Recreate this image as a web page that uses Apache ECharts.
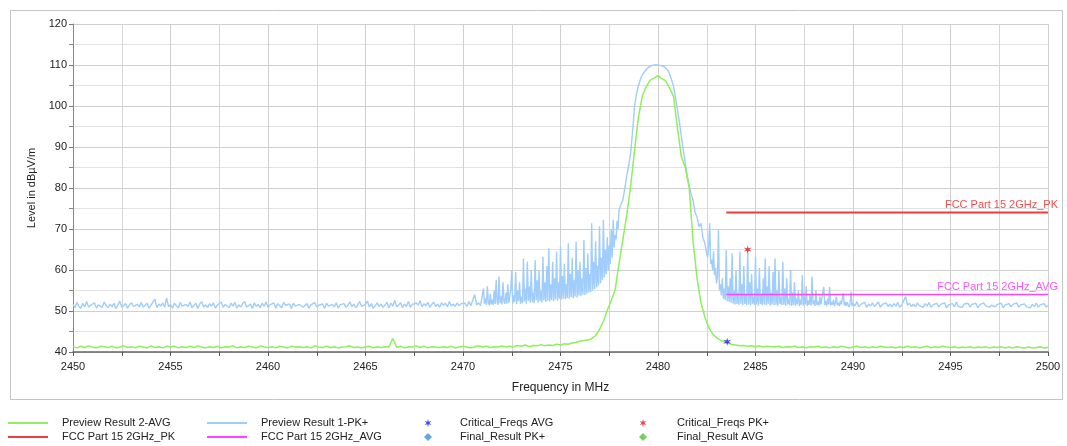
<!DOCTYPE html>
<html>
<head>
<meta charset="utf-8">
<script src="https://cdn.jsdelivr.net/npm/echarts@6/dist/echarts.min.js"></script>
<style>
html,body{margin:0;padding:0;background:#fff;}
#chart{width:1067px;height:446px;}
</style>
</head>
<body>
<div id="chart"></div>
<script>
// ---- Data ----
// Preview Result 1-PK+ : read in segments (start MHz, step MHz, levels dBµV/m)
const pkSeg1Start = 2450, pkSeg1Step = 0.1;
const pkSeg1 = [
51.6,50.8,52.1,51.2,50.6,51.9,51.0,52.3,50.9,51.4,
51.1,52.0,50.7,51.5,51.8,50.9,52.2,51.3,50.8,51.7,
51.0,51.9,50.6,51.4,52.4,50.9,51.2,51.8,50.7,51.5,
52.0,51.1,50.8,51.6,51.0,52.1,50.9,51.3,51.9,50.7,
51.4,52.2,52.9,50.8,51.7,51.2,52.0,50.9,53.2,51.0,
51.6,50.7,51.9,51.3,50.8,52.1,51.2,50.9,51.6,51.1,
52.2,50.8,51.4,51.9,50.6,51.7,52.3,51.0,51.5,50.9,
51.8,51.2,52.0,50.7,51.4,51.1,52.2,50.9,51.6,51.3,
50.8,51.9,51.2,52.1,50.7,51.5,51.0,51.8,52.3,50.9,
51.3,51.7,50.6,52.0,51.1,51.6,50.8,51.9,51.2,52.2,
50.9,51.5,51.1,52.0,50.7,51.8,51.3,50.8,52.1,51.4,
51.0,51.7,50.6,51.9,51.2,50.8,51.6,52.0,50.9,51.3,
51.8,50.7,51.5,51.1,52.1,50.9,51.4,51.0,51.7,50.6,
51.9,51.2,50.8,51.6,51.0,52.0,50.7,51.5,51.3,51.8,
50.9,51.4,52.2,51.0,51.7,50.8,51.5,52.3,51.1,50.9,
51.6,52.4,51.0,51.8,50.7,51.3,52.0,51.1,51.7,50.9,
51.5,52.1,50.8,51.9,51.2,52.6,51.0,51.4,52.0,50.8,
51.7,51.1,52.3,50.9,51.6,51.2,52.0,51.4,52.5,51.0,
51.8,51.3,52.1,50.9,51.6,52.2,51.1,51.7,50.9,52.0,
51.4,51.9,51.0,52.3,51.2,51.7,51.1,52.0,51.3,51.8,
51.4,51.9,51.1,52.3,51.3,51.7,54.0,51.5,52.0,51.3
];
const pkSeg2Start = 2471, pkSeg2Step = 0.05;
const pkSeg2 = [
51.4,55.5,51.8,53.0,51.5,56.0,52.0,51.4,54.2,51.6,
52.8,51.5,55.0,51.7,57.6,52.2,51.5,58.4,51.9,53.6,
51.6,57.0,52.4,51.7,54.5,51.8,56.5,52.0,51.6,55.2,
60.0,51.8,53.8,52.2,59.5,51.7,55.0,52.4,57.0,51.8,
53.5,51.9,62.8,52.3,55.5,51.8,62.0,52.5,56.0,52.0,
60.0,52.2,54.5,51.9,62.4,52.6,57.5,52.0,60.0,52.4,
55.0,52.1,63.2,52.6,57.0,52.2,61.0,52.5,65.3,52.3,
56.5,52.7,62.0,52.4,58.0,52.8,64.5,52.5,57.0,53.0,
65.7,52.8,58.5,53.0,61.5,52.9,56.5,53.2,66.5,53.0,
59.0,53.4,63.0,53.1,57.5,53.5,66.9,53.3,60.0,53.8,
62.0,53.6,58.0,54.0,67.3,53.9,60.5,54.3,64.0,54.5,
59.0,54.6,71.4,55.0,62.0,55.3,67.0,55.8,61.0,56.2,
70.6,56.8,63.0,57.5,72.2,58.2,65.0,59.0,68.0,60.0,
66.0,61.5,70.0,63.0,72.2,65.5,68.5,67.5,72.0,70.0
];
const pkSeg3Start = 2478, pkSeg3Step = 0.1;
const pkSeg3 = [
74.5,76.0,77.1,80.0,83.0,85.6,88.5,94.0,100.0,103.0,
105.0,106.5,107.6,108.3,108.9,109.4,109.7,109.9,110.0,110.1,
110.0,109.9,109.8,109.6,109.3,108.8,107.8,106.3,104.7,102.0,
99.0,96.0,92.5,89.3,86.0,83.0,80.5,78.5,77.0,74.0,
73.0,70.6,71.4,68.0,66.5
];
const pkSeg4Start = 2482.5, pkSeg4Step = 0.05;
const pkSeg4 = [
64.0,63.0,66.0,71.4,61.5,62.5,60.0,64.5,58.8,60.5,
56.7,58.5,69.8,55.0,56.5,53.8,58.0,53.0,55.5,52.7,
64.9,52.4,56.0,52.2,58.0,52.0,64.1,51.8,55.0,51.6,
60.0,51.7,54.5,51.5,64.5,51.8,56.5,51.4,61.0,51.7,
54.0,51.5,64.8,51.6,57.0,51.4,59.0,51.8,53.5,51.5,
63.2,51.6,55.5,51.3,60.5,51.7,54.0,51.4,58.0,51.6,
62.8,51.4,56.0,51.7,61.0,51.3,54.5,51.6,59.5,51.4,
62.8,51.5,55.0,51.3,60.0,51.7,53.5,51.4,62.0,51.5,
55.5,51.3,58.0,51.6,53.0,51.4,60.0,51.2,54.5,51.5,
57.0,51.3,53.0,51.6,55.0,51.2,52.8,51.5,58.8,51.3,
53.5,51.6,56.0,51.2,52.6,51.5,54.0,51.3,58.4,51.6,
52.5,51.2,55.0,51.5,52.3,51.3,53.5,51.6,52.0,51.2,
55.9,51.5,52.4,51.2,53.0,51.6,55.9,51.3,52.2,51.5,
52.8,51.2,51.9,53.5,51.4,52.0,51.2,52.5,51.6,51.3,
54.3,51.4,52.2,51.2,52.2,51.5,51.0,51.7,54.7,51.2
];
const pkSeg5Start = 2490, pkSeg5Step = 0.1;
const pkSeg5 = [
51.9,51.2,52.3,51.0,51.6,51.3,52.1,50.9,51.7,51.2,
52.0,51.1,51.5,52.2,50.9,51.6,51.3,52.0,51.1,51.7,
51.0,51.8,51.2,52.1,50.9,51.5,51.2,53.5,51.4,51.9,
51.1,51.7,51.0,52.0,51.3,51.6,50.9,51.8,51.2,52.1,
50.9,51.5,51.2,51.9,51.0,51.6,51.3,52.0,50.8,51.5,
51.2,51.8,51.0,52.2,51.1,51.5,50.9,51.7,51.3,51.9,
51.0,51.6,51.2,51.9,50.8,51.5,51.1,52.0,51.3,51.7,
50.9,51.4,51.8,51.0,51.6,51.2,51.9,50.8,51.5,51.1,
51.8,51.0,51.6,51.2,52.0,50.9,51.5,51.3,51.7,51.0,
51.4,50.8,51.6,51.1,51.9,50.9,51.5,51.2,51.8,51.0,
51.3
];

// Preview Result 2-AVG : sampled every 0.2 MHz from 2450 MHz
const avgStart = 2450, avgStep = 0.2;
const avgValues = [
41.3,41.0,41.4,41.1,41.5,
41.2,41.0,41.4,41.3,41.1,
41.4,41.0,41.2,41.5,41.1,
41.3,41.0,41.4,41.2,41.0,
41.5,41.1,41.3,41.0,41.4,
41.2,41.4,41.0,41.3,41.1,
41.4,41.1,41.5,41.2,41.0,
41.3,41.1,41.4,41.0,41.3,
41.2,41.5,41.0,41.3,41.1,
41.4,41.2,41.0,41.5,41.2,
41.1,41.3,41.0,41.4,41.2,
41.0,41.4,41.2,41.3,41.1,
41.3,41.0,41.5,41.2,41.1,
41.4,41.1,41.3,41.0,41.2,
41.3,41.5,41.1,41.2,41.0,
41.2,41.4,41.0,41.3,41.1,
41.3,41.2,43.3,41.1,41.4,
41.0,41.3,41.2,41.5,41.1,
41.4,41.0,41.3,41.2,41.1,
41.3,41.1,41.4,41.0,41.2,
41.4,41.2,41.0,41.3,41.5,
41.2,41.4,41.1,41.3,41.2,
41.5,41.2,41.4,41.3,41.6,
41.4,41.7,41.3,41.6,41.5,
41.8,41.5,41.7,41.6,41.9,
41.7,42.0,41.9,42.2,42.3,
42.6,42.8,42.9,43.3,44.0,
45.5,47.5,50.2,52.5,55.1,
61.5,67.5,73.5,80.5,89.3,
97.4,102.5,104.8,106.3,106.8,
107.4,106.7,106.1,104.3,102.3,
94.5,87.6,85.0,80.0,67.0,
58.0,52.0,48.6,46.0,44.4,
43.5,42.9,42.5,42.1,41.8,
41.7,41.5,41.6,41.4,41.5,
41.3,41.5,41.2,41.4,41.3,
41.2,41.4,41.1,41.3,41.2,
41.4,41.1,41.3,41.0,41.3,
41.2,41.4,41.1,41.3,41.0,
41.3,41.1,41.4,41.2,41.0,
41.2,41.4,41.1,41.3,41.0,
41.3,41.1,41.4,41.2,41.1,
41.2,41.0,41.3,41.1,41.4,
41.1,41.3,41.0,41.2,41.4,
41.0,41.3,41.1,41.4,41.2,
41.1,41.3,41.0,41.2,41.1,
41.3,41.0,41.2,41.1,41.3,
41.0,41.2,41.1,41.3,41.0,
41.2,41.0,41.3,41.1,41.0,
41.2,41.0,41.1,41.3,41.0,
41.1
];

// Limit lines
const limitFreqs = [2483.5, 2500];
const limitPk = 74;
const limitAvg = 54;

// Critical frequencies
const critAvg = [[2483.55, 42.5]];
const critPk = [[2484.6, 65.0]];
const finalPk = [];
const finalAvg = [];

const xTicks = { min: 2450, max: 2500, step: 5 };
const yTicks = { min: 40, max: 120, step: 10 };

// ---- Build ----
function seg(start, step, vals) {
  return vals.map((v, i) => [+(start + i * step).toFixed(3), v]);
}
const pkData = [].concat(
  seg(pkSeg1Start, pkSeg1Step, pkSeg1),
  seg(pkSeg2Start, pkSeg2Step, pkSeg2),
  seg(pkSeg3Start, pkSeg3Step, pkSeg3),
  seg(pkSeg4Start, pkSeg4Step, pkSeg4),
  seg(pkSeg5Start, pkSeg5Step, pkSeg5)
);
const avgData = seg(avgStart, avgStep, avgValues);

const FONT = '"Liberation Sans", Arial, sans-serif';
const starPath = 'path://M10 0 L11.75 6.97 L18.66 5 L13.5 10 L18.66 15 L11.75 13.03 L10 20 L8.25 13.03 L1.34 15 L6.5 10 L1.34 5 L8.25 6.97 Z';

const C_AVG = '#8fef5c', C_PK = '#a0cdfb', C_LPK = '#f23a3a', C_LAVG = '#ff44ff';

const chart = echarts.init(document.getElementById('chart'), null, {renderer: 'canvas'});
function legendText(pad) {
  return {color: '#222', fontSize: 11, fontFamily: FONT, lineHeight: 12, padding: [0, 0, 0, pad]};
}
function lineLegend(left, names) {
  return {left: left, top: 417, padding: 0, orient: 'vertical', itemWidth: 40, itemHeight: 2,
          itemGap: 2, icon: 'rect', textStyle: legendText(9), data: names};
}
function symLegend(left, pad, names) {
  return {left: left, top: 417, padding: 0, orient: 'vertical', itemWidth: 8, itemHeight: 8,
          itemGap: 2, textStyle: legendText(pad), data: names};
}
const option = {
  backgroundColor: '#fff',
  animation: false,
  textStyle: {fontFamily: FONT},
  graphic: [{
    type: 'rect', left: 8, top: 8, z: -10, silent: true,
    shape: {width: 1052, height: 389},
    style: {fill: 'none', stroke: '#c4c4c4', lineWidth: 1}
  }],
  grid: {left: 73, right: 19, top: 24, bottom: 94},
  legend: [
    lineLegend(8, ['Preview Result 2-AVG', 'FCC Part 15 2GHz_PK']),
    lineLegend(207, ['Preview Result 1-PK+', 'FCC Part 15 2GHz_AVG']),
    symLegend(424, 23, ['Critical_Freqs AVG', 'Final_Result PK+']),
    symLegend(639, 25, ['Critical_Freqs PK+', 'Final_Result AVG'])
  ],
  xAxis: {
    type: 'value', min: xTicks.min, max: xTicks.max, interval: xTicks.step,
    name: 'Frequency in MHz', nameLocation: 'middle', nameGap: 30,
    nameTextStyle: {color: '#222', fontSize: 12, fontFamily: FONT},
    axisLine: {show: true, onZero: false, lineStyle: {color: '#666', width: 1.5}},
    axisTick: {show: true, length: 4, lineStyle: {color: '#555'}},
    minorTick: {show: true, splitNumber: 2, length: 4, lineStyle: {color: '#555'}},
    splitLine: {show: true, lineStyle: {color: '#cfcfcf'}},
    minorSplitLine: {show: true, lineStyle: {color: '#d6d6d6'}},
    axisLabel: {color: '#222', fontSize: 11, margin: 9, fontFamily: FONT,
                formatter: v => String(v)}
  },
  yAxis: {
    type: 'value', min: yTicks.min, max: yTicks.max, interval: yTicks.step,
    name: 'Level in dBµV/m', nameLocation: 'middle', nameGap: 30, nameRotate: 90,
    nameTextStyle: {color: '#222', fontSize: 11, fontFamily: FONT},
    axisLine: {show: true, lineStyle: {color: '#888'}},
    axisTick: {show: true, length: 4, lineStyle: {color: '#777'}},
    minorTick: {show: true, splitNumber: 2, length: 4, lineStyle: {color: '#888'}},
    splitLine: {show: true, lineStyle: {color: '#cfcfcf'}},
    minorSplitLine: {show: true, lineStyle: {color: '#e2e2e2'}},
    axisLabel: {color: '#222', fontSize: 11, margin: 6, fontFamily: FONT}
  },
  series: [
    {name: 'Preview Result 1-PK+', type: 'line', data: pkData, symbol: 'none',
     lineStyle: {color: C_PK, width: 1.4}, itemStyle: {color: C_PK}, z: 2},
    {name: 'Preview Result 2-AVG', type: 'line', data: avgData, symbol: 'none',
     lineStyle: {color: C_AVG, width: 1.5}, itemStyle: {color: C_AVG}, z: 3},
    {name: 'FCC Part 15 2GHz_PK', type: 'line', symbol: 'circle', symbolSize: 0, showSymbol: true, z: 4,
     lineStyle: {color: C_LPK, width: 2}, itemStyle: {color: C_LPK},
     data: [[limitFreqs[0], limitPk], {value: [limitFreqs[1], limitPk],
       label: {show: true, formatter: 'FCC Part 15 2GHz_PK', position: 'top', align: 'right',
               offset: [10, 3], color: '#f05050', fontSize: 11, fontFamily: FONT}}]},
    {name: 'FCC Part 15 2GHz_AVG', type: 'line', symbol: 'circle', symbolSize: 0, showSymbol: true, z: 4,
     lineStyle: {color: C_LAVG, width: 1.5}, itemStyle: {color: C_LAVG},
     data: [[limitFreqs[0], limitAvg], {value: [limitFreqs[1], limitAvg],
       label: {show: true, formatter: 'FCC Part 15 2GHz_AVG', position: 'top', align: 'right',
               offset: [10, 3], color: '#ff55ff', fontSize: 11, fontFamily: FONT}}]},
    {name: 'Critical_Freqs AVG', type: 'scatter', data: critAvg, symbol: starPath, symbolSize: 8,
     itemStyle: {color: '#1a1ae6'}, z: 6},
    {name: 'Critical_Freqs PK+', type: 'scatter', data: critPk, symbol: starPath, symbolSize: 8,
     itemStyle: {color: '#ee1111'}, z: 6},
    {name: 'Final_Result PK+', type: 'scatter', data: finalPk, symbol: 'diamond', symbolSize: 8,
     itemStyle: {color: '#3d8fdc'}},
    {name: 'Final_Result AVG', type: 'scatter', data: finalAvg, symbol: 'diamond', symbolSize: 8,
     itemStyle: {color: '#52c43a'}}
  ]
};
chart.setOption(option);
</script>
</body>
</html>
